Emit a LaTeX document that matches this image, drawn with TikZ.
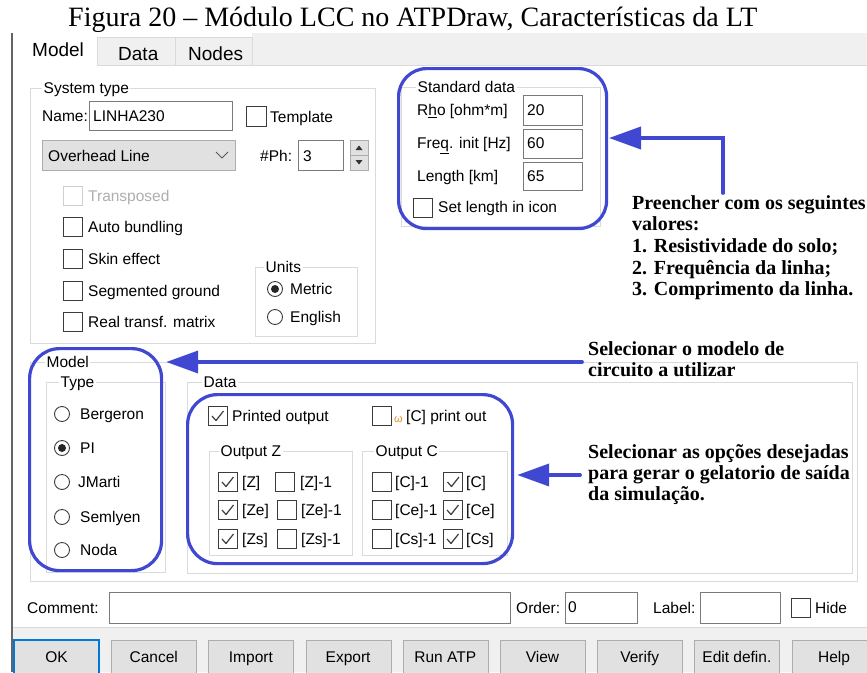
\documentclass[tikz,border=0pt]{standalone}
\usepackage{fontspec}
\setmainfont{Liberation Serif}
\newfontfamily\uif{Liberation Sans}
\usetikzlibrary{arrows.meta}
\definecolor{annot}{RGB}{64,72,210}
\definecolor{grpc}{RGB}{218,218,218}
\definecolor{fld}{RGB}{122,122,122}
\definecolor{chkc}{RGB}{60,60,60}
\definecolor{winbg}{RGB}{240,240,240}
\definecolor{btnfill}{RGB}{225,225,225}
\definecolor{btnline}{RGB}{173,173,173}
\definecolor{okblue}{RGB}{0,120,215}
\definecolor{dis}{RGB}{175,175,175}
\definecolor{omegac}{RGB}{230,140,40}
\definecolor{frame}{RGB}{100,100,100}
\tikzset{tick/.pic={\draw[chkc, line width=1.2pt, line join=round] (-5.5,0) -- (-1.5,4.5) -- (6,-5);}}
\begin{document}
\begin{tikzpicture}[x=1pt,y=-1pt,
 ui/.style={anchor=base west, inner sep=0pt, font=\uif\fontsize{15.5}{18}\selectfont},
 grplabel/.style={ui, fill=white, inner xsep=1.5pt},
 grp/.style={draw=grpc, line width=0.9pt},
 field/.style={draw=fld, fill=white, line width=0.8pt, anchor=north west, inner sep=0pt},
 chk/.style={draw=chkc, fill=white, line width=0.9pt, minimum size=19pt, inner sep=0pt},
 radio/.style={circle, draw=chkc, fill=white, line width=0.9pt, minimum size=15pt, inner sep=0pt},
 annotbox/.style={draw=annot, line width=3.2pt, rounded corners=28pt, anchor=north west, inner sep=0pt},
 arr/.style={draw=annot, line width=3.8pt, line cap=round, -{Triangle[length=32pt,width=22pt]}},
 note/.style={anchor=north west, inner sep=0pt, align=left, font=\bfseries\fontsize{20}{21.7}\selectfont},
 btn/.style={draw=btnline, fill=btnfill, line width=0.9pt, minimum width=85pt, minimum height=40pt, anchor=north west, inner sep=0pt},
 tab/.style={ui, font=\uif\fontsize{19}{22}\selectfont}
]
\useasboundingbox (0,0) rectangle (867,672);
\clip (0,0) rectangle (867,672);
\fill[white] (0,0) rectangle (867,672);

% title
\node[anchor=base west, inner sep=0pt, font=\fontsize{28}{30}\selectfont] (title) at (68,26) {Figura 20 -- Módulo LCC no ATPDraw, Características da LT};

% window frame and tab strip
\fill[winbg] (252,33) rectangle (867,65);
\draw[grpc, line width=0.9pt] (252,65) -- (867,65);
\node[draw=grpc, fill=winbg, line width=0.9pt, anchor=north west, minimum width=78pt, minimum height=28pt, inner sep=0pt] (tabdata) at (97,37) {};
\node[draw=grpc, fill=winbg, line width=0.9pt, anchor=north west, minimum width=77pt, minimum height=28pt, inner sep=0pt] (tabnodes) at (175,37) {};
\node[tab] (tmodel) at (32,56) {Model};
\node[tab] (tdata) at (118,60) {Data};
\node[tab] (tnodes) at (188,60) {Nodes};
\draw[frame, line width=1.3pt] (12,33) -- (12,672);

% ---------- System type ----------
\draw[grp] (30,88) rectangle (375,343);
\node[grplabel] (lsys) at (42,93.5) {System type};
\node[ui] (lname) at (42,121.5) {Name:};
\node[field, minimum width=143pt, minimum height=29pt] (fname) at (89,101) {};
\node[ui] (vname) at (93,121.5) {LINHA230};
\node[chk, minimum size=20pt] (ctempl) at (256,116.5) {};
\node[ui] (ltempl) at (270,122.5) {Template};
\node[draw=btnline, fill=btnfill, line width=0.8pt, anchor=north west, minimum width=193pt, minimum height=30pt, inner sep=0pt] (drop) at (42,140) {};
\node[ui] (vdrop) at (48,161.5) {Overhead Line};
\draw[black!65, line width=1pt] (216,152) -- (222,158) -- (228,152);
\node[ui] (lph) at (260,161.5) {\#Ph:};
\node[field, minimum width=45pt, minimum height=30pt] (fph) at (298,140) {};
\node[ui] (vph) at (303,161.5) {3};
\node[draw=btnline, fill=btnfill, line width=0.8pt, anchor=north west, minimum width=18pt, minimum height=15pt, inner sep=0pt] (spinup) at (350,140) {};
\node[draw=btnline, fill=btnfill, line width=0.8pt, anchor=north west, minimum width=18pt, minimum height=15pt, inner sep=0pt] (spindn) at (350,155) {};
\fill[black!80] (355.5,150) -- (362.5,150) -- (359,145.5) -- cycle;
\fill[black!80] (355.5,160) -- (362.5,160) -- (359,164.5) -- cycle;

\node[chk, draw=dis!60] (ctrans) at (72.5,196) {};
\node[ui, text=dis] (ltrans) at (88,201.5) {Transposed};
\node[chk] (cauto) at (72.5,227) {};
\node[ui] (lauto) at (88,232.5) {Auto bundling};
\node[chk] (cskin) at (72.5,258.5) {};
\node[ui] (lskin) at (88,264) {Skin effect};
\node[chk] (cseg) at (72.5,290.5) {};
\node[ui] (lseg) at (88,296) {Segmented ground};
\node[chk] (creal) at (72.5,321.5) {};
\node[ui] (lreal) at (88,327) {Real transf. matrix};

\draw[grp] (255,267) rectangle (357,336);
\node[grplabel] (lunits) at (264,272.5) {Units};
\node[radio] (rmetric) at (275,289) {};
\fill[black!85] (rmetric.center) circle (4);
\node[ui] (lmetric) at (290,294.5) {Metric};
\node[radio] (renglish) at (275,317) {};
\node[ui] (lenglish) at (290,322.5) {English};

% ---------- Standard data ----------
\draw[grp] (401,87) rectangle (600,226);
\node[grplabel] (lstd) at (416,92.5) {Standard data};
\node[ui] (lrho) at (417,115.5) {R\underline{h}o [ohm*m]};
\node[field, minimum width=59pt, minimum height=30pt] (frho) at (523,95) {};
\node[ui] (vrho) at (527,115.5) {20};
\node[ui] (lfreq) at (417,148.5) {Fre\underline{q}. init [Hz]};
\node[field, minimum width=59pt, minimum height=29pt] (ffreq) at (523,129) {};
\node[ui] (vfreq) at (527,148.5) {60};
\node[ui] (llen) at (417,181.5) {Length [km]};
\node[field, minimum width=59pt, minimum height=28pt] (flen) at (523,162) {};
\node[ui] (vlen) at (527,181.5) {65};
\node[chk] (cset) at (422.5,207.5) {};
\node[ui] (lset) at (438,212.5) {Set length in icon};

% ---------- Model ----------
\draw[grp] (30,362) rectangle (857,581);
\node[grplabel] (lmodel) at (45,367.5) {Model};
\draw[grp] (46,382) rectangle (165,572);
\node[grplabel] (ltype) at (59,387.5) {Type};
\node[radio] (rberg) at (62,414) {};
\node[ui] (lberg) at (80,419.5) {Bergeron};
\node[radio] (rpi) at (62,448) {};
\fill[black!85] (rpi.center) circle (4);
\node[ui] (lpi) at (80,453.5) {PI};
\node[radio] (rjm) at (62,482) {};
\node[ui] (ljm) at (78,487.5) {JMarti};
\node[radio] (rsem) at (62,517) {};
\node[ui] (lsem) at (80,522.5) {Semlyen};
\node[radio] (rnoda) at (62,550) {};
\node[ui] (lnoda) at (80,555.5) {Noda};

\draw[grp] (187,382) rectangle (852,573);
\node[grplabel] (ldata) at (202,387.5) {Data};
\node[chk] (cprint) at (217.5,416) {};
\pic at (cprint.center) {tick};
\node[ui] (lprint) at (232,421.5) {Printed output};
\node[chk] (comega) at (381.5,416) {};
\node[ui, text=omegac, font=\uif\fontsize{11}{12}\selectfont] (lomega) at (394,422) {ω};
\node[ui] (lcprint) at (406,421.5) {[C] print out};

\draw[grp] (209,451) rectangle (352,555);
\node[grplabel] (loz) at (219,456.5) {Output Z};
\node[chk] (cz1) at (227.5,482) {};   \pic at (cz1.center) {tick};
\node[ui] (lz1) at (242,487.5) {[Z]};
\node[chk] (cz1i) at (285,482) {};
\node[ui] (lz1i) at (300,487.5) {[Z]-1};
\node[chk] (cz2) at (227.5,510) {};   \pic at (cz2.center) {tick};
\node[ui] (lz2) at (242,515.5) {[Ze]};
\node[chk] (cz2i) at (287,510) {};
\node[ui] (lz2i) at (301,515.5) {[Ze]-1};
\node[chk] (cz3) at (227.5,539) {};   \pic at (cz3.center) {tick};
\node[ui] (lz3) at (242,544.5) {[Zs]};
\node[chk] (cz3i) at (287,539) {};
\node[ui] (lz3i) at (301,544.5) {[Zs]-1};

\draw[grp] (362,451) rectangle (507,555);
\node[grplabel] (loc) at (374,456.5) {Output C};
\node[chk] (cc1i) at (381.5,482) {};
\node[ui] (lc1i) at (395,487.5) {[C]-1};
\node[chk] (cc1) at (453,482) {};   \pic at (cc1.center) {tick};
\node[ui] (lc1) at (466,487.5) {[C]};
\node[chk] (cc2i) at (381.5,510) {};
\node[ui] (lc2i) at (395,515.5) {[Ce]-1};
\node[chk] (cc2) at (452.5,510) {};   \pic at (cc2.center) {tick};
\node[ui] (lc2) at (466,515.5) {[Ce]};
\node[chk] (cc3i) at (381.5,539) {};
\node[ui] (lc3i) at (395,544.5) {[Cs]-1};
\node[chk] (cc3) at (452.5,539) {};   \pic at (cc3.center) {tick};
\node[ui] (lc3) at (466,544.5) {[Cs]};

% ---------- bottom ----------
\node[ui] (lcomm) at (27,613.5) {Comment:};
\node[field, minimum width=401pt, minimum height=31pt] (fcomm) at (109,592) {};
\node[ui] (lorder) at (516,613.5) {Order:};
\node[field, minimum width=72pt, minimum height=31pt] (forder) at (565,592) {};
\node[ui] (vorder) at (568,612) {0};
\node[ui] (llabel) at (653,613.5) {Label:};
\node[field, minimum width=80pt, minimum height=31pt] (flabel) at (700,592) {};
\node[chk] (chide) at (800.5,608) {};
\node[ui] (lhide) at (815,613.5) {Hide};

\fill[winbg] (12.7,627) rectangle (867,672);
\draw[grpc, line width=0.9pt] (12.7,627) -- (867,627);
\foreach \lab [count=\i from 0] in {OK,Cancel,Import,Export,Run ATP,View,Verify,Edit defin.,Help} {
  \node[btn] (b\i) at ({14+97.2*\i},640) {};
  \node[ui, anchor=base] (bt\i) at ({56.5+97.2*\i},662.5) {\lab};
}
\draw[okblue, line width=1.5pt] (14,640) rectangle (99,680);

% ---------- annotations ----------
\node[annotbox, minimum width=208pt, minimum height=160pt] (sdbox) at (397,67) {};
\node[annotbox, minimum width=132pt, minimum height=222pt, rounded corners=30pt] (mdbox) at (28,347) {};
\node[annotbox, minimum width=325pt, minimum height=169pt, rounded corners=30pt] (dtbox) at (186,393) {};

\coordinate (a1s) at (723,193);
\coordinate (a1t) at (605,138);
\draw[arr, shorten >=4pt] (a1s) |- (a1t);
\coordinate (a2s) at (582,362);
\draw[arr, shorten >=3pt] (a2s) -- (mdbox.east |- a2s);
\coordinate (a3s) at (580,475);
\draw[arr, shorten >=3pt] (a3s) -- (dtbox.east |- a3s);

\node[note] (n1) at (632,195) {Preencher com os seguintes\\valores:\\1. Resistividade do solo;\\2. Frequência da linha;\\3. Comprimento da linha.};
\node[note] (n2) at (588,341) {Selecionar o modelo de\\circuito a utilizar};
\node[note, font=\bfseries\fontsize{20}{21}\selectfont] (n3) at (588,444) {Selecionar as opções desejadas\\para gerar o gelatorio de saída\\da simulação.};
\end{tikzpicture}
\end{document}
